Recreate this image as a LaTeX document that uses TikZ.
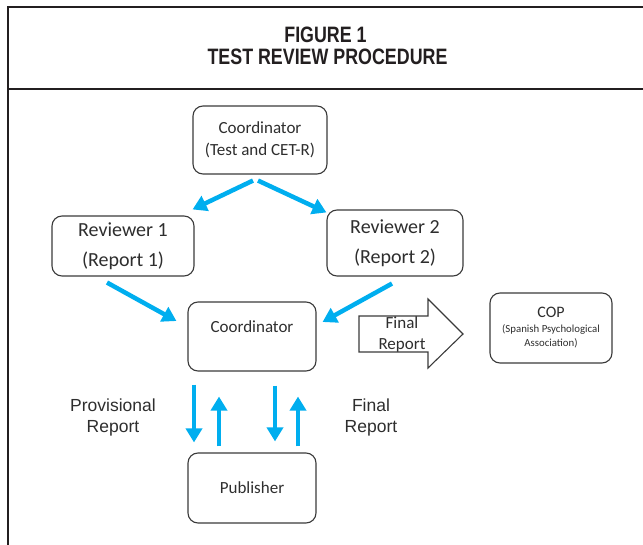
\documentclass[tikz,border=0pt]{standalone}
\usepackage{fontspec}
\setmainfont{Carlito}
\newfontfamily\arialfont{Liberation Sans}
\newfontfamily\titlefont[FakeStretch=0.8]{Liberation Sans}
\usetikzlibrary{arrows.meta}
\definecolor{flowblue}{HTML}{00AEEF}
\definecolor{boxgray}{HTML}{3A3A3A}
\definecolor{textgray}{HTML}{2E2E2E}
\definecolor{framegray}{HTML}{231F20}
\tikzset{
  box/.style={draw=boxgray, line width=1.1pt, rounded corners=10pt, text=textgray,
    align=center, inner sep=0pt},
  flow/.style={draw=flowblue, line width=4.5pt, -{Triangle[width=16pt,length=14pt]}},
  side/.style={font=\arialfont\fontsize{17.5}{21}\selectfont, text=textgray, align=center},
}
\begin{document}
\begin{tikzpicture}[x=1pt, y=-1pt]
    \useasboundingbox (0,0) rectangle (643,545);
    % frame and title
    \draw[framegray, line width=2.5pt] (8,545) -- (8,7) -- (643,7);
    \draw[framegray, line width=2.5pt] (8,89) -- (643,89);
    \node[font=\titlefont\bfseries\fontsize{22.3}{24}\selectfont, text=framegray] (title1) at (325.5,34.5) {FIGURE 1};
    \node[font=\titlefont\bfseries\fontsize{22.3}{24}\selectfont, text=framegray] (title2) at (327.5,56.5) {TEST REVIEW PROCEDURE};

    \node[box, minimum width=134pt, minimum height=68pt, font=\fontsize{17}{22}\selectfont] (coord0) at (260,140) {Coordinator\\(Test and CET-R)};
    \node[box, minimum width=142pt, minimum height=60pt, font=\fontsize{20}{30}\selectfont] (rev1) at (123,246) {Reviewer 1\\(Report 1)};
    \node[box, minimum width=136pt, minimum height=66pt, font=\fontsize{20}{30}\selectfont] (rev2) at (395,243) {Reviewer 2\\(Report 2)};
    \node[box, text width=128pt, text height=31pt, text depth=38pt, font=\fontsize{17}{20}\selectfont] (coord) at (252,336.5) {Coordinator};
    \node[box, minimum width=122pt, minimum height=70pt, font=\fontsize{10.8}{14}\selectfont] (cop) at (551,328) {{\fontsize{16}{17}\selectfont COP}\\[1pt](Spanish Psychological\\Association)};
    \node[box, minimum width=128pt, minimum height=70pt, font=\fontsize{17}{20}\selectfont] (pub) at (252,488) {Publisher};

    % block arrow to COP
    \draw[boxgray, line width=1.1pt] (359,316) -- (428,316) -- (428,299) -- (463,334) -- (428,368) -- (428,352) -- (359,352) -- cycle;
    \node[font=\fontsize{17}{21}\selectfont, text=textgray, align=center] (final) at (402,334) {Final\\Report};

    \node[side] (prov) at (113,417.5) {Provisional\\Report};
    \node[side] (finalrep) at (371,417.5) {Final\\Report};

    \draw[flow] ([xshift=-7pt, yshift=-6pt]coord0.south) -- ([xshift=-2pt, yshift=6pt]rev1.north east);
    \draw[flow] ([xshift=-2pt, yshift=-6pt]coord0.south) -- ([yshift=-3pt]rev2.north west);
    \draw[flow] ([xshift=-16pt, yshift=-6pt]rev1.south) -- ([xshift=-11pt, yshift=15.5pt]coord.west);
    \draw[flow] ([xshift=-3pt, yshift=-7pt]rev2.south) -- ([xshift=6pt, yshift=14.5pt]coord.east);

    \draw[flow, shorten <=13pt, shorten >=10pt] ([xshift=-58pt]coord.south) -- ([xshift=-58pt]pub.north);
    \draw[flow, shorten <=6pt, shorten >=25pt] ([xshift=-33pt]pub.north) -- ([xshift=-33pt]coord.south);
    \draw[flow, shorten <=14pt, shorten >=11pt] ([xshift=23pt]coord.south) -- ([xshift=23pt]pub.north);
    \draw[flow, shorten <=6pt, shorten >=25pt] ([xshift=46pt]pub.north) -- ([xshift=46pt]coord.south);
\end{tikzpicture}
\end{document}
